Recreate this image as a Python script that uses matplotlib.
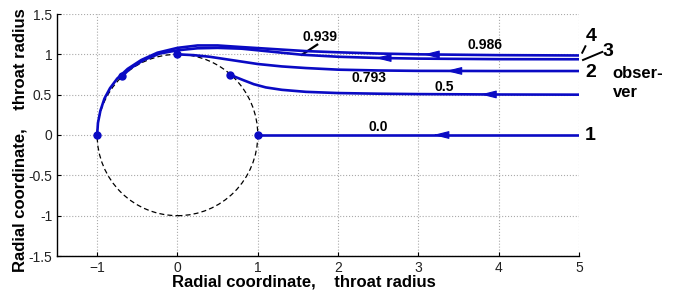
import numpy as np
import matplotlib
matplotlib.use('Agg')
import matplotlib.pyplot as plt
from matplotlib.patches import Circle

plt.rcParams['font.family'] = ['Liberation Sans', 'DejaVu Sans']

# impact parameters of the rays and the curves
b_labels = ['0.0', '0.5', '0.793', '0.939', '0.986']

x_b0 = [5.0, 4.0, 3.0, 2.0, 1.0]
y_b0 = [0.0, 0.0, 0.0, 0.0, 0.0]

x_b1 = [5.0, 4.0, 3.0, 2.5, 2.0, 1.6, 1.3, 1.1, 0.95, 0.82, 0.72, 0.66]
y_b1 = [0.5, 0.502, 0.507, 0.512, 0.52, 0.535, 0.56, 0.59, 0.63, 0.68, 0.72, 0.75]

x_b2 = [5.0, 4.0, 3.0, 2.5, 2.0, 1.6, 1.3, 1.0, 0.8, 0.6, 0.4, 0.2, 0.0]
y_b2 = [0.793, 0.793, 0.795, 0.80, 0.81, 0.83, 0.85, 0.88, 0.91, 0.94, 0.97, 0.99, 1.0]

x_b3 = [5.0, 4.0, 3.0, 2.5, 2.0, 1.55, 1.2, 0.8, 0.5, 0.25, 0.0, -0.22, -0.42, -0.58, -0.69]
y_b3 = [0.939, 0.94, 0.947, 0.955, 0.97, 0.995, 1.03, 1.07, 1.08, 1.075, 1.05, 1.01, 0.93, 0.83, 0.73]

x_b4 = [5.0, 4.0, 3.0, 2.5, 2.0, 1.6, 1.2, 0.8, 0.5, 0.25, 0.0, -0.25, -0.45, -0.62, -0.75, -0.84,
        -0.91, -0.96, -0.99, -1.0]
y_b4 = [0.986, 0.99, 1.0, 1.01, 1.025, 1.04, 1.065, 1.09, 1.11, 1.11, 1.08, 1.02, 0.93, 0.82, 0.70,
        0.58, 0.45, 0.30, 0.15, 0.0]

arrow_x = [3.27, 3.86, 3.43, 2.55, 3.15]

throat_r = 1.0

# label positions (data coords)
lab_xy = [(2.5, 0.10), (3.32, 0.59), (2.39, 0.71), (1.78, 1.22), (3.83, 1.11)]
obs_labels = ['1', '2', '3', '4']
obs_xy = [(5.14, 0.0), (5.15, 0.77), (5.36, 1.03), (5.15, 1.22)]

blue = '#0a0ac4'

fig = plt.figure(figsize=(6.78, 2.93), dpi=100)
ax = fig.add_axes([57/678, 37/293, 522/678, 242/293])

ax.add_patch(Circle((0, 0), throat_r, fill=False, ls=(0, (4, 2.5)), lw=0.9, color='k', zorder=2))

curves = [(x_b0, y_b0), (x_b1, y_b1), (x_b2, y_b2), (x_b3, y_b3), (x_b4, y_b4)]
for (xs, ys), xa in zip(curves, arrow_x):
    ax.plot(xs, ys, color=blue, lw=1.9, zorder=3)
    ax.plot(xs[-1], ys[-1], 'o', color=blue, ms=5, zorder=4)
    ya = np.interp(xa, xs[::-1], ys[::-1])
    ax.annotate('', xy=(xa - 0.12, ya), xytext=(xa, ya),
                arrowprops=dict(arrowstyle='-|>,head_length=1.2,head_width=0.3',
                                color=blue, lw=0.8, mutation_scale=8), zorder=4)

for t, (x, y) in zip(b_labels, lab_xy):
    ax.text(x, y, t, fontsize=10, fontweight='bold', ha='center', va='center')
# leader for 0.939
ax.plot([1.74, 1.55], [1.12, 0.995], color='k', lw=1.6)

for t, (x, y) in zip(obs_labels, obs_xy):
    ax.text(x, y, t, fontsize=14, fontweight='bold', ha='center', va='center', clip_on=False)
ax.plot([5.08, 5.04], [1.10, 1.02], color='k', lw=1.4, clip_on=False)
ax.plot([5.29, 5.05], [1.03, 0.93], color='k', lw=1.4, clip_on=False)
ax.text(5.42, 0.76, 'obser-', fontsize=12, fontweight='bold', ha='left', va='center')
ax.text(5.42, 0.53, 'ver', fontsize=12, fontweight='bold', ha='left', va='center')

ax.set_xlim(-1.5, 5)
ax.set_ylim(-1.5, 1.5)
ax.set_xticks([-1, 0, 1, 2, 3, 4, 5])
ax.set_yticks([-1.5, -1, -0.5, 0, 0.5, 1, 1.5])
ax.set_yticklabels(['-1.5', '-1', '-0.5', '0', '0.5', '1', '1.5'])
ax.grid(True, ls=':', color='#aaaaaa', lw=0.8)
ax.tick_params(direction='in', labelsize=10, length=3, width=0.8, labelcolor='#222222')
for s in ['top', 'right']:
    ax.spines[s].set_visible(False)
for s in ['left', 'bottom']:
    ax.spines[s].set_linewidth(1.0)

fig.text(304/678, 1 - 282/293, 'Radial coordinate,    throat radius', fontsize=12,
         fontweight='bold', ha='center', va='center')
fig.text(20/678, 1 - 140/293, 'Radial coordinate,    throat radius', fontsize=12,
         fontweight='bold', ha='center', va='center', rotation=90)

fig.savefig('out.png', dpi=100)
